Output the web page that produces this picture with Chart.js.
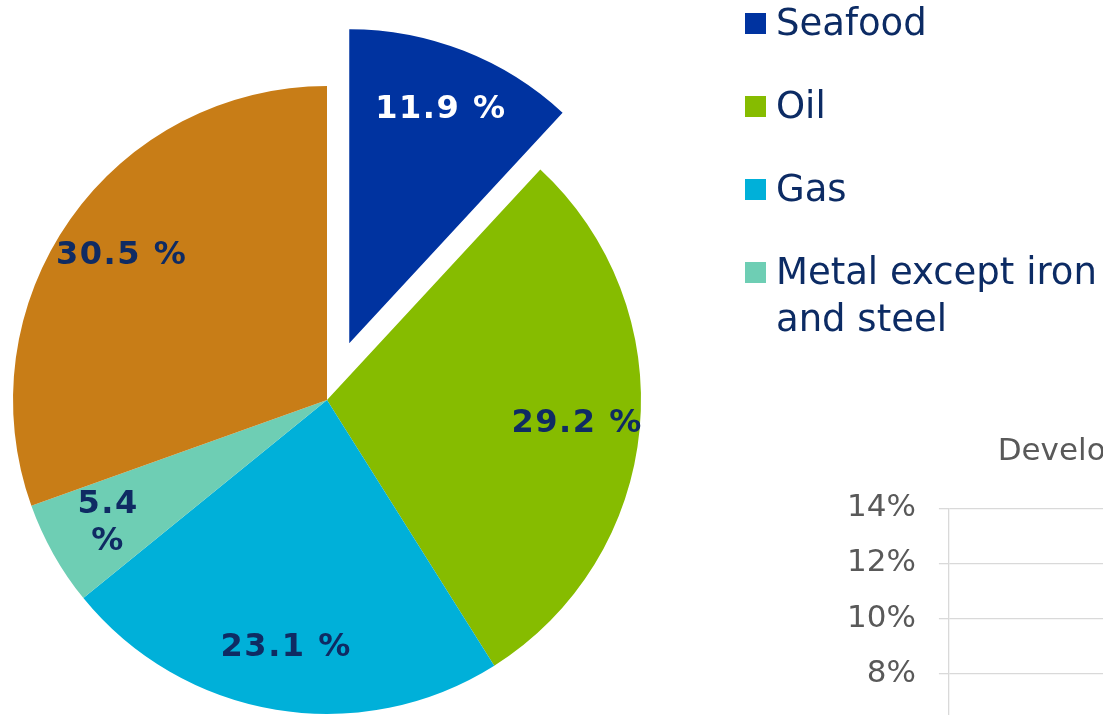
<!DOCTYPE html>
<html>
<head>
<meta charset="utf-8">
<script src="https://cdn.jsdelivr.net/npm/chart.js"></script>
<style>
  html, body { margin:0; padding:0; background:#fff; width:1103px; height:715px; overflow:hidden; }
  body { position:relative; font-family:"DejaVu Sans", Verdana, sans-serif; }
  #pieBox { position:absolute; left:-100px; top:-100px; width:900px; height:915px; }
  #lineBox { position:absolute; left:824px; top:410px; width:556px; height:526px; }
  #leyenda { position:absolute; left:745px; top:-1.5px; width:360px; font-size:37px; line-height:47px; color:#0c2b64; }
  .item { display:flex; align-items:flex-start; margin-bottom:36px; }
  .caja { flex:none; width:21px; height:21px; margin-top:14.5px; margin-right:10px; }
</style>
</head>
<body>
<div id="pieBox"><canvas id="Grafico1"></canvas></div>
<div id="leyenda"></div>
<div id="lineBox"><canvas id="Grafico2"></canvas></div>
<script>
// pie data
const categorias = ['Seafood', 'Oil', 'Gas', 'Metal except iron and steel', 'Other'];
const valores = [11.9, 29.2, 23.1, 5.4, 30.5];
const colores = ['#0033A0', '#86BC00', '#00B0D9', '#6ECEB4', '#C87D17'];
const separacion = [61, 0, 0, 0, 0];
const enLeyenda = 4; // only the first four are visible in the legend

// second (cut off) chart
const tituloDesarrollo = 'Development';
const yMin = 0, yMax = 14, yPaso = 2;

function esOscuro(hex){
    let r = parseInt(hex.substr(1,2),16), g = parseInt(hex.substr(3,2),16), b = parseInt(hex.substr(5,2),16);
    return (0.299*r + 0.587*g + 0.114*b) < 110;
}

// moves a slice out along its middle angle, keeping its radius
const separar = {
    id: 'separar',
    afterDatasetUpdate(chart, args){
        args.meta.data.forEach((arc, i) => {
            let d = separacion[i] || 0;
            if(!d || arc._separado) return;
            let dibujar = arc.draw;
            arc.draw = function(ctx, area){
                let medio = (this.startAngle + this.endAngle) / 2;
                ctx.save();
                ctx.translate(Math.cos(medio)*d, Math.sin(medio)*d);
                dibujar.call(this, ctx, area);
                ctx.restore();
            };
            arc._separado = true;
        });
    }
};

const etiquetas = {
    id: 'etiquetas',
    afterDatasetsDraw(chart){
        let ctx = chart.ctx;
        let meta = chart.getDatasetMeta(0);
        ctx.save();
        ctx.font = 'bold 32px "DejaVu Sans"';
        ctx.letterSpacing = '1.5px';
        ctx.textAlign = 'center';
        ctx.textBaseline = 'middle';
        meta.data.forEach((arc, i) => {
            let p = arc.getProps(['x','y','startAngle','endAngle','outerRadius'], true);
            let medio = (p.startAngle + p.endAngle) / 2;
            let r = p.outerRadius * 0.8 + (separacion[i] || 0);
            let x = p.x + Math.cos(medio)*r;
            let y = p.y + Math.sin(medio)*r;
            let txt = valores[i].toFixed(1);
            let lineas = valores[i] < 10 ? [txt, '%'] : [txt + ' %'];
            ctx.fillStyle = esOscuro(colores[i]) ? '#ffffff' : '#0f2b63';
            lineas.forEach((l, k) => {
                ctx.fillText(l, x, y + (k - (lineas.length-1)/2)*37);
            });
        });
        ctx.restore();
    }
};

let G1 = new Chart(document.getElementById('Grafico1').getContext('2d'), {
    type: 'pie',
    data: {
        labels: categorias,
        datasets: [{
            data: valores,
            backgroundColor: colores,
            borderWidth: 0,
            clip: false
        }]
    },
    options: {
        responsive: true,
        maintainAspectRatio: false,
        animation: false,
        events: [],
        layout: { padding: { left: 113, top: 186, right: 159, bottom: 101 } },
        plugins: {
            legend: { display: false },
            tooltip: { enabled: false }
        }
    },
    plugins: [separar, etiquetas]
});

// html legend from the chart's own labels
let html = '';
G1.data.labels.slice(0, enLeyenda).forEach((lab, i) => {
    html += '<div class="item"><span class="caja" style="background:' + colores[i] + '"></span><span>' + lab + '</span></div>';
});
document.getElementById('leyenda').innerHTML = html;

let G2 = new Chart(document.getElementById('Grafico2').getContext('2d'), {
    type: 'line',
    data: { labels: [], datasets: [] },
    options: {
        responsive: true,
        maintainAspectRatio: false,
        animation: false,
        events: [],
        layout: { padding: 0 },
        plugins: {
            legend: { display: false },
            tooltip: { enabled: false },
            title: {
                display: true,
                text: tituloDesarrollo,
                color: '#595959',
                font: { family: 'DejaVu Sans', size: 31, weight: 'normal' },
                padding: { top: 23, bottom: 38 }
            }
        },
        scales: {
            x: { display: false },
            y: {
                min: yMin,
                max: yMax,
                ticks: {
                    stepSize: yPaso,
                    callback: v => v + '%',
                    color: '#595959',
                    font: { family: 'DejaVu Sans', size: 31 },
                    padding: 23
                },
                grid: { color: '#d9d9d9', lineWidth: 1.3, tickLength: 10 },
                border: { color: '#d9d9d9', width: 1.3 }
            }
        }
    }
});
</script>
</body>
</html>
